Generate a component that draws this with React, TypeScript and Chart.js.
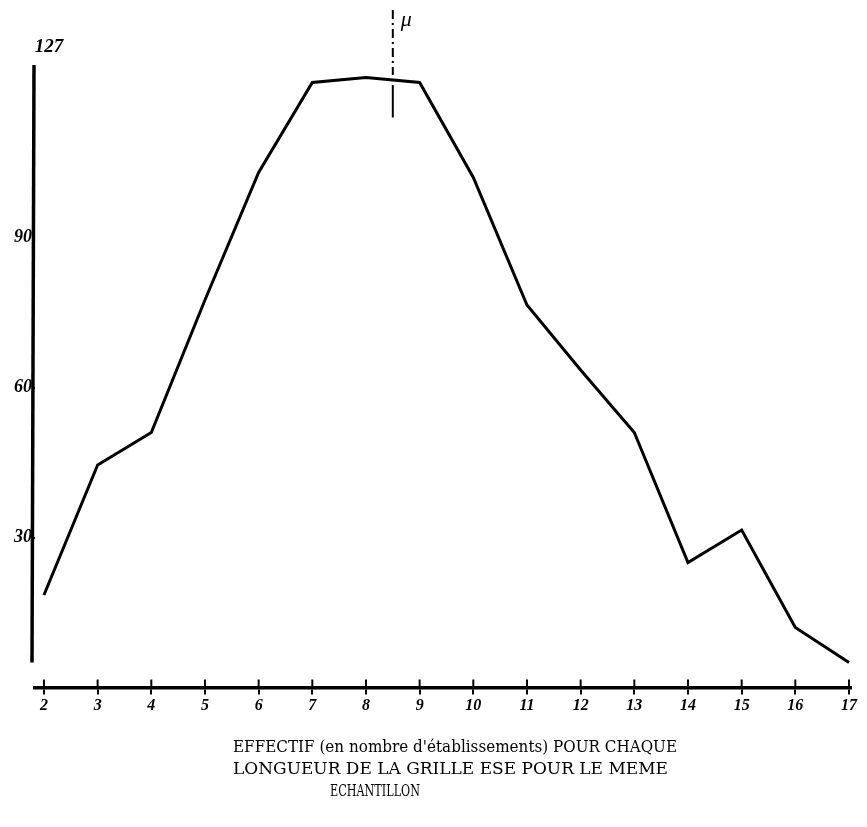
import React, { useEffect, useRef } from "react";
import { Chart, registerables } from "chart.js";

Chart.register(...registerables);

// Data
const lengths: number[] = [2, 3, 4, 5, 6, 7, 8, 9, 10, 11, 12, 13, 14, 15, 16, 17];
const counts: number[] = [18.5, 44.5, 51, 77.5, 103, 121, 122, 121, 102, 76.5, 63.5, 51, 25, 31.5, 12, 5];
const yTickValues: number[] = [30, 60, 90];
const topLabel = "127";
const muValue = 8.5;
const muLabel = "μ";
const titleLines: string[] = [
  "EFFECTIF (en nombre d'établissements) POUR CHAQUE",
  "LONGUEUR DE LA GRILLE ESE POUR LE MEME",
  "ECHANTILLON",
];

const HAND = "italic 17px 'Liberation Serif', 'DejaVu Serif', serif";

const decor = {
  id: "decor",
  afterDraw(chart: any) {
    const { ctx, chartArea, scales } = chart;
    const xs = scales.x;
    const ys = scales.y;
    ctx.save();
    ctx.strokeStyle = "#000";
    ctx.fillStyle = "#000";
    ctx.lineCap = "butt";

    // y axis line
    ctx.lineWidth = 3.5;
    ctx.beginPath();
    ctx.moveTo(chartArea.left - 1, ys.getPixelForValue(124.5));
    ctx.lineTo(chartArea.left - 3, ys.getPixelForValue(5));
    ctx.stroke();

    // tick marks crossing the x axis (upper part)
    const y0 = ys.getPixelForValue(0);
    ctx.lineWidth = 2;
    xs.ticks.forEach((t: any) => {
      const px = xs.getPixelForValue(t.value);
      ctx.beginPath();
      ctx.moveTo(px, y0 - 8);
      ctx.lineTo(px, y0);
      ctx.stroke();
    });

    // top label of y axis
    ctx.font = "italic bold 19px 'Liberation Serif', 'DejaVu Serif', serif";
    ctx.textAlign = "center";
    ctx.textBaseline = "middle";
    ctx.fillText(topLabel, chartArea.left + 14, ys.getPixelForValue(128));

    // mean line (mu)
    const mx = xs.getPixelForValue(muValue);
    ctx.lineWidth = 2;
    ctx.setLineDash([9, 4, 2, 4]);
    ctx.beginPath();
    ctx.moveTo(mx, ys.getPixelForValue(135.5));
    ctx.lineTo(mx, ys.getPixelForValue(122.5));
    ctx.stroke();
    ctx.setLineDash([]);
    ctx.beginPath();
    ctx.moveTo(mx, ys.getPixelForValue(120.5));
    ctx.lineTo(mx, ys.getPixelForValue(114));
    ctx.stroke();
    ctx.font = "italic 22px 'Liberation Serif', 'DejaVu Serif', serif";
    ctx.textAlign = "left";
    ctx.textBaseline = "middle";
    ctx.fillText(muLabel, mx + 8, ys.getPixelForValue(133.5));

    // caption
    const cap = [
      { x: 225, y: 740, w: 444 },
      { x: 225, y: 762, w: 435 },
      { x: 322, y: 784, w: 90 },
    ];
    ctx.font = "17px 'DejaVu Serif', 'Liberation Serif', serif";
    ctx.textAlign = "left";
    ctx.textBaseline = "middle";
    titleLines.forEach((line, i) => {
      const c = cap[i];
      const m = ctx.measureText(line).width;
      ctx.save();
      ctx.translate(c.x, c.y);
      ctx.scale(c.w / m, 1);
      ctx.fillText(line, 0, 0);
      ctx.restore();
    });
    ctx.restore();
  },
};

export default function App() {
  const ref = useRef<HTMLCanvasElement | null>(null);

  useEffect(() => {
    if (!ref.current) return;
    const chart = new Chart(ref.current, {
      type: "line",
      data: {
        datasets: [
          {
            data: lengths.map((x, i) => ({ x, y: counts[i] })),
            borderColor: "#000",
            borderWidth: 3,
            pointRadius: 0,
            tension: 0,
            fill: false,
          },
        ],
      },
      options: {
        animation: false,
        responsive: false,
        devicePixelRatio: 1,
        layout: { padding: { top: 39.5, right: 6, bottom: 91.5, left: 0 } },
        plugins: {
          legend: { display: false },
          tooltip: { enabled: false },
          title: { display: false },
        },
        scales: {
          x: {
            type: "linear",
            min: 1.833,
            max: 17.04,
            afterBuildTicks: (scale: any) => {
              scale.ticks = lengths.map((v) => ({ value: v }));
            },
            afterFit: (scale: any) => {
              scale.height = 40;
            },
            grid: {
              drawOnChartArea: false,
              drawTicks: true,
              tickLength: 7,
              color: "#000",
              lineWidth: 2,
            },
            border: { display: true, color: "#000", width: 3.5 },
            ticks: {
              color: "#000",
              font: { family: "'Liberation Serif', 'DejaVu Serif', serif", size: 16, style: "italic", weight: "bold" },
              padding: 2,
              maxRotation: 0,
              autoSkip: false,
            },
          },
          y: {
            type: "linear",
            min: 0,
            max: 128,
            afterBuildTicks: (scale: any) => {
              scale.ticks = yTickValues.map((v) => ({ value: v }));
            },
            afterFit: (scale: any) => {
              scale.width = 27;
            },
            grid: {
              drawOnChartArea: false,
              drawTicks: true,
              tickLength: 3,
              color: "#000",
              lineWidth: 2,
            },
            border: { display: false },
            ticks: {
              color: "#000",
              font: { family: "'Liberation Serif', 'DejaVu Serif', serif", size: 18, style: "italic", weight: "bold" },
              padding: 0,
            },
          },
        },
      },
      plugins: [decor],
    });
    return () => chart.destroy();
  }, []);

  return (
    <div style={{ width: 851, height: 811 }}>
      <canvas ref={ref} width={851} height={811} style={{ display: "block" }} />
    </div>
  );
}
